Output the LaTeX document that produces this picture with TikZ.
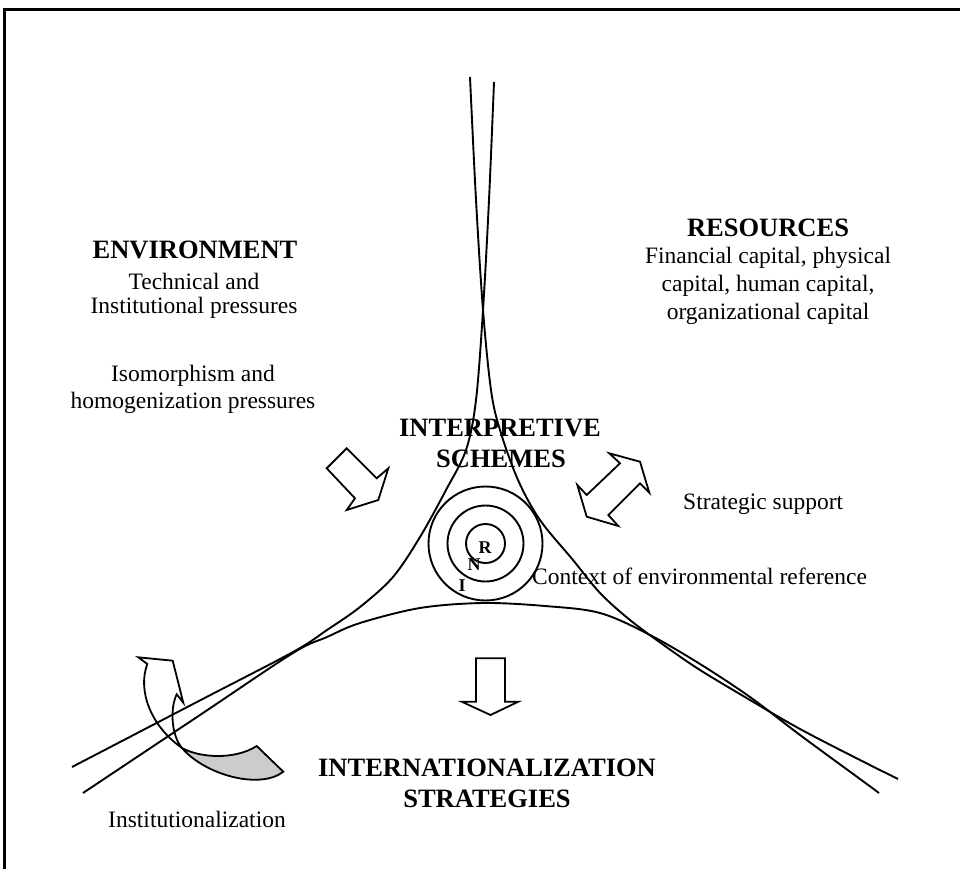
\documentclass[tikz,border=0pt]{standalone}
\usepackage{fontspec}
\setmainfont{Liberation Serif}
\begin{document}
\begin{tikzpicture}[x=1pt,y=-1pt,
  curve/.style={line width=1.9pt, line join=round},
  ring/.style={line width=1.9pt},
  blockarrow/.style={line width=1.8pt, fill=white, line join=miter},
  body/.style={font=\fontsize{23.5}{27}\selectfont, inner sep=0pt},
  head/.style={font=\fontsize{26.5}{31}\selectfont\bfseries, inner sep=0pt},
  lbl/.style={font=\fontsize{18}{20}\selectfont\bfseries, inner sep=0pt}]
\useasboundingbox (0,0) rectangle (960,869);
% frame
\draw[line width=2.2pt] (4.5,869) -- (4.5,9.5) -- (960,9.5);

% curved arrow (institutionalization)
\draw[blockarrow] (138.3,657.3) -- (172.7,660.7) -- (183.3,702.7) -- (176.7,694.3)
  .. controls (170,708) and (171,735) .. (182,748)
  .. controls (152,727) and (137,692) .. (147.3,664) -- cycle;
\draw[blockarrow, fill=black!20] (182,748) .. controls (200,758) and (235,760) .. (256.7,746)
  -- (283.3,771.7) .. controls (260,790) and (205,775) .. (182,748) -- cycle;

% three curves
\draw[curve] plot[smooth, tension=0.55] coordinates {(494,82) (489,200) (483,310) (476,400) (466,450) (446,490) (420,537) (393,577) (360,607) (327,630) (293,652) (200,700.4) (72,767)};
\draw[curve] plot[smooth, tension=0.55] coordinates {(470,77) (476,200) (483,310) (491,390) (500,430) (518,480) (540,520) (573,560) (600,593) (630,620) (665,646) (700,670) (750,700) (800,729) (860,760) (898,779)};
\draw[curve] plot[smooth, tension=0.55] coordinates {(83,793) (200,715) (293,653) (327,637) (360,623) (420,608) (483,603) (545,606) (600,613) (650,635) (700,664) (750,697) (800,735) (860,779) (879,793)};

% concentric circles
\coordinate (ctr) at (485.5,543.5);
\draw[ring] (ctr) circle[radius=57];
\draw[ring] (ctr) circle[radius=38];
\draw[ring] (ctr) circle[radius=19.5];
\node[lbl] (r) at (485,548) {R};
\node[lbl] (n) at (474,565) {N};
\node[lbl] (i) at (462,586) {I};

% block arrows
\draw[blockarrow] (346.7,448.3) -- (376.7,478.3) -- (388.3,468.3) -- (378.3,500) -- (346.7,510) -- (355,498.3) -- (326.7,468.3) -- cycle;
\draw[blockarrow] (609.3,453.3) -- (640,461.7) -- (649.3,492.7) -- (640,483.3) -- (608.3,515) -- (618.3,526) -- (586.7,516.7) -- (577.3,485) -- (586.7,495) -- (620,463.3) -- cycle;
\draw[blockarrow] (476,658.3) -- (505,658.3) -- (505,701.7) -- (518.3,701.7) -- (490.5,715) -- (461.7,701.7) -- (476,701.7) -- cycle;

% texts
\node[head] (env) at (195,250) {ENVIRONMENT};
\node[body] (env1) at (194,281) {Technical and};
\node[body] (env2) at (194,308) {Institutional pressures};
\node[body] (iso1) at (193,376) {Isomorphism and};
\node[body] (iso2) at (193,403) {homogenization pressures};
\node[head] (res) at (768,228) {RESOURCES};
\node[body] (res1) at (768,258) {Financial capital, physical};
\node[body] (res2) at (768,286) {capital, human capital,};
\node[body] (res3) at (768,314) {organizational capital};
\node[head] (int1) at (500,428) {INTERPRETIVE};
\node[head] (int2) at (501,459) {SCHEMES};
\node[body, anchor=west] (strat) at (683,504) {Strategic support};
\node[body, anchor=west] (ctx) at (532,576) {Context of environmental reference};
\node[head] (str1) at (487,768) {INTERNATIONALIZATION};
\node[head] (str2) at (487,799) {STRATEGIES};
\node[body] (inst) at (197,819) {Institutionalization};
\end{tikzpicture}
\end{document}
